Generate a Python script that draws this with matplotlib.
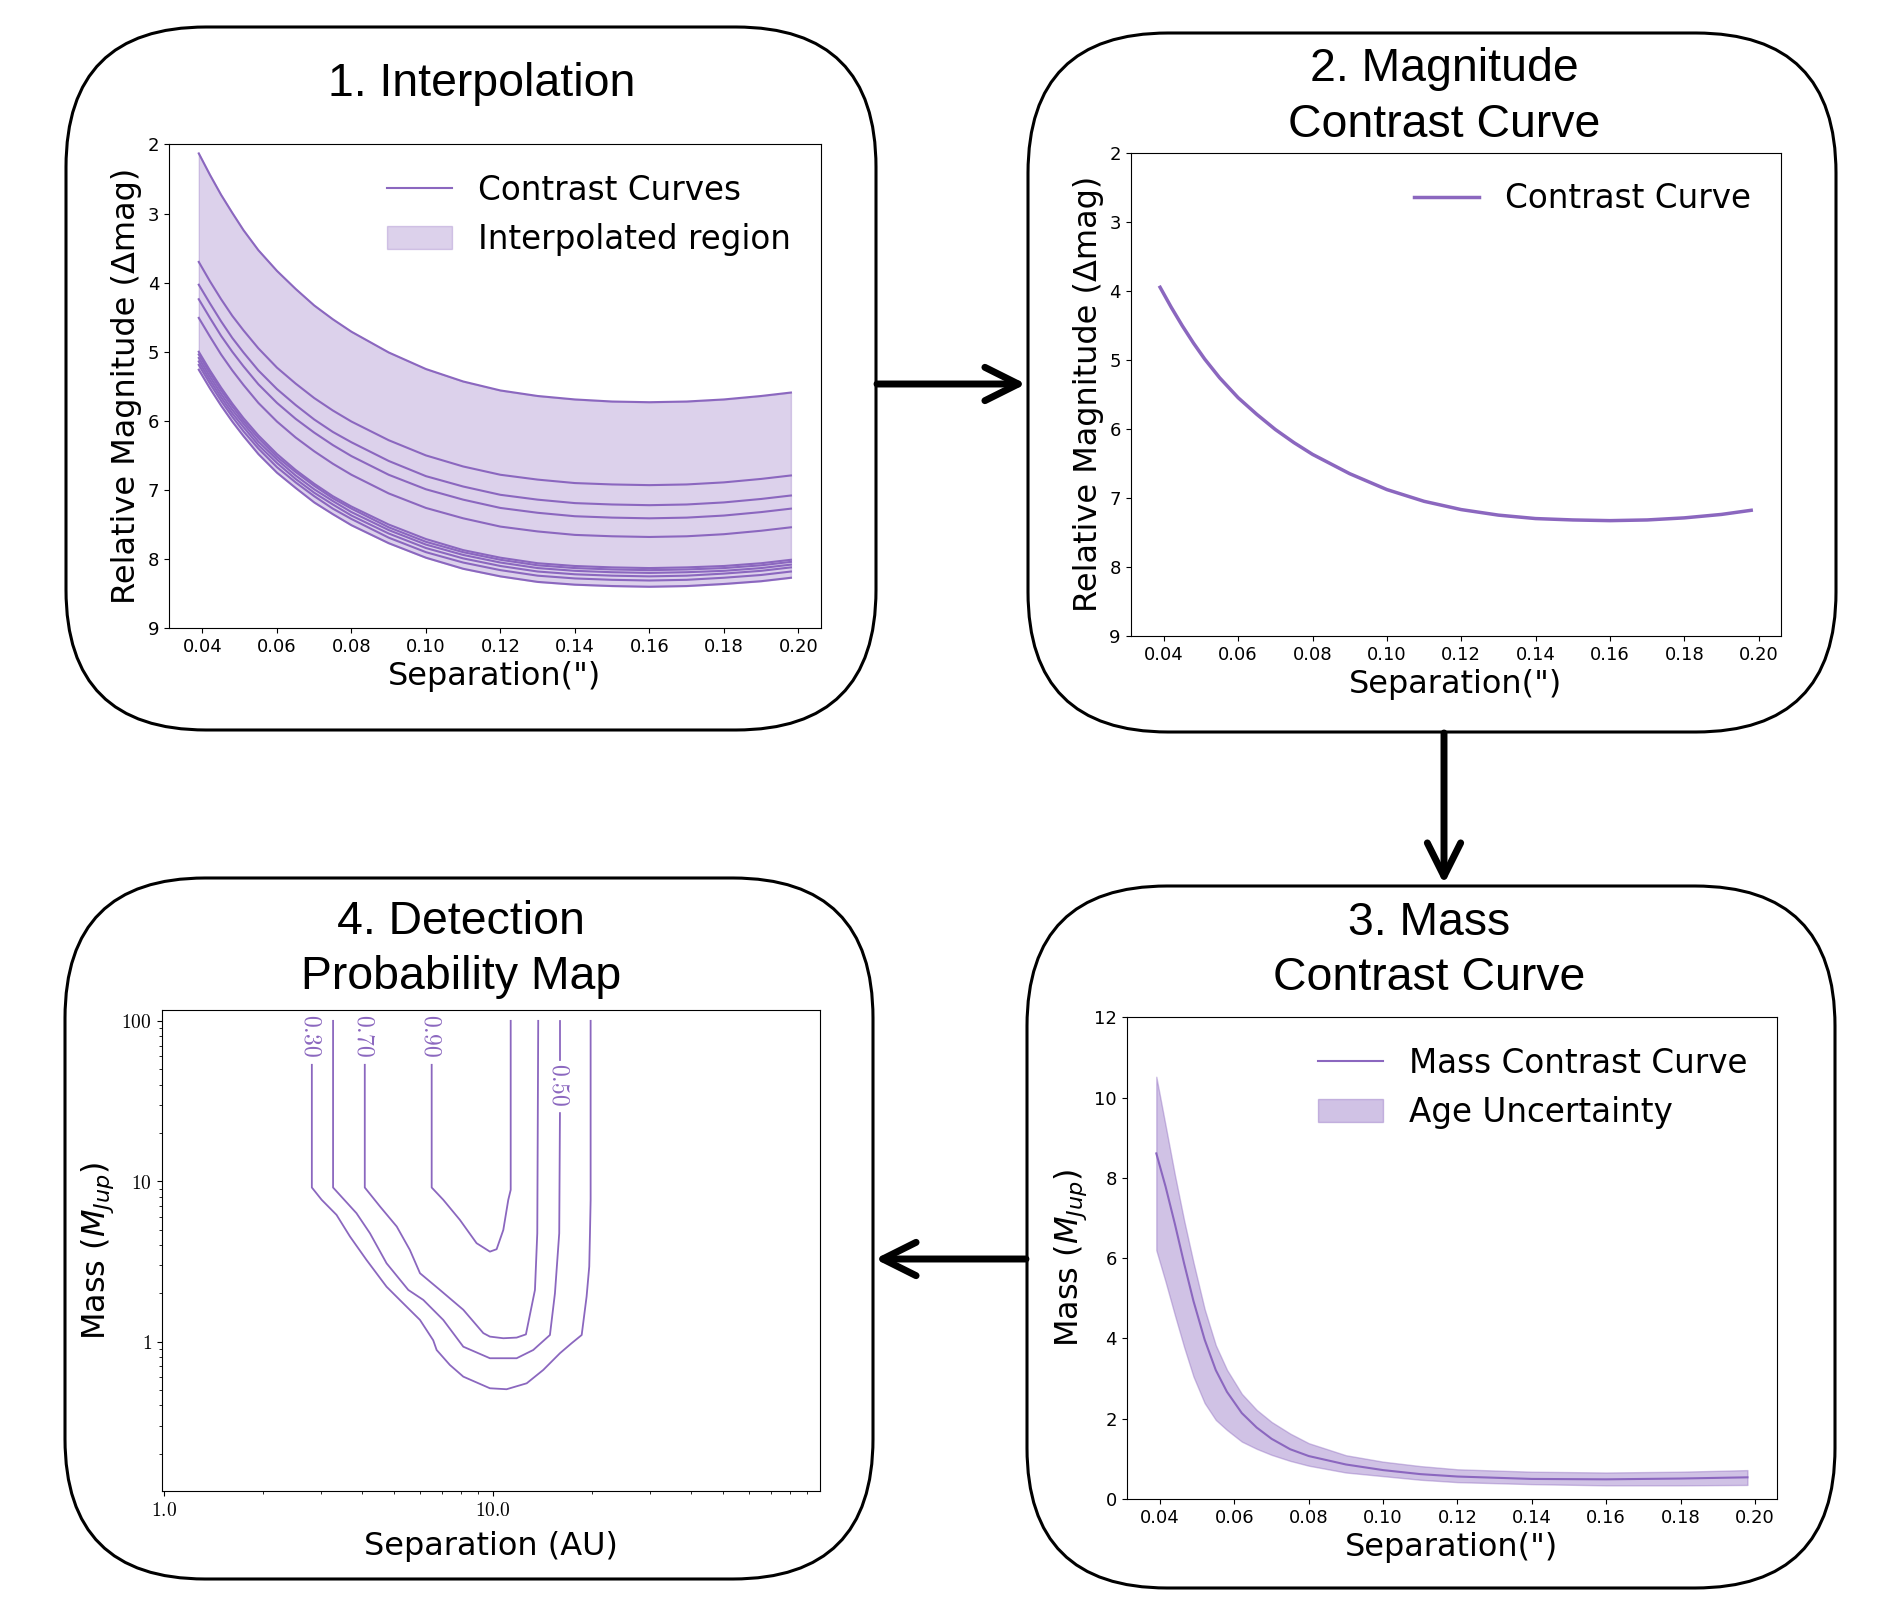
#!/usr/bin/python3

import matplotlib
matplotlib.use("Agg")
import matplotlib.pyplot as plt
from matplotlib.patches import FancyBboxPatch, FancyArrowPatch
from matplotlib.ticker import FixedLocator, NullFormatter, LogLocator

#_____________________________________________________________________________
# panel 1: contrast curves (Delta mag) vs separation (arcsec)
sep = [0.039, 0.042, 0.045, 0.048, 0.051, 0.055, 0.06, 0.065, 0.07, 0.075, 0.08, 0.09,
       0.10, 0.11, 0.12, 0.13, 0.14, 0.15, 0.16, 0.17, 0.18, 0.19, 0.198]

dmag_1  = [2.13, 2.44, 2.73, 2.99, 3.24, 3.53, 3.83, 4.09, 4.33, 4.53, 4.71, 5.01,
           5.25, 5.43, 5.56, 5.64, 5.69, 5.72, 5.73, 5.72, 5.69, 5.64, 5.59]
dmag_2  = [3.70, 3.98, 4.24, 4.48, 4.69, 4.95, 5.23, 5.46, 5.67, 5.85, 6.01, 6.28,
           6.50, 6.66, 6.78, 6.85, 6.90, 6.92, 6.93, 6.92, 6.89, 6.84, 6.79]
dmag_3  = [4.03, 4.30, 4.56, 4.80, 5.01, 5.27, 5.54, 5.77, 5.98, 6.16, 6.31, 6.58,
           6.80, 6.95, 7.07, 7.14, 7.19, 7.21, 7.22, 7.21, 7.18, 7.13, 7.08]
dmag_4  = [4.24, 4.51, 4.77, 5.00, 5.21, 5.47, 5.74, 5.97, 6.17, 6.35, 6.51, 6.78,
           6.99, 7.14, 7.26, 7.33, 7.38, 7.40, 7.41, 7.40, 7.37, 7.32, 7.27]
dmag_5  = [4.51, 4.78, 5.04, 5.27, 5.48, 5.74, 6.01, 6.24, 6.44, 6.62, 6.78, 7.05,
           7.26, 7.41, 7.53, 7.60, 7.65, 7.67, 7.68, 7.67, 7.64, 7.59, 7.54]
dmag_6  = [5.00, 5.27, 5.52, 5.75, 5.96, 6.21, 6.48, 6.71, 6.91, 7.09, 7.24, 7.50,
           7.71, 7.87, 7.98, 8.06, 8.10, 8.12, 8.13, 8.12, 8.10, 8.06, 8.01]
dmag_7  = [5.04, 5.31, 5.56, 5.79, 6.00, 6.25, 6.52, 6.74, 6.94, 7.12, 7.27, 7.54,
           7.75, 7.90, 8.01, 8.09, 8.13, 8.15, 8.16, 8.15, 8.13, 8.09, 8.04]
dmag_8  = [5.09, 5.36, 5.61, 5.84, 6.04, 6.30, 6.56, 6.79, 6.99, 7.16, 7.32, 7.58,
           7.79, 7.94, 8.05, 8.13, 8.17, 8.19, 8.20, 8.19, 8.17, 8.13, 8.08]
dmag_9  = [5.14, 5.41, 5.66, 5.89, 6.09, 6.35, 6.61, 6.84, 7.04, 7.21, 7.37, 7.63,
           7.84, 7.99, 8.10, 8.18, 8.22, 8.24, 8.25, 8.24, 8.21, 8.17, 8.12]
dmag_10 = [5.19, 5.46, 5.71, 5.94, 6.15, 6.40, 6.67, 6.89, 7.09, 7.27, 7.42, 7.69,
           7.90, 8.05, 8.16, 8.24, 8.28, 8.30, 8.31, 8.30, 8.27, 8.23, 8.18]
dmag_11 = [5.26, 5.53, 5.78, 6.01, 6.22, 6.48, 6.75, 6.97, 7.18, 7.35, 7.51, 7.77,
           7.98, 8.14, 8.25, 8.33, 8.37, 8.39, 8.40, 8.39, 8.36, 8.32, 8.27]

# panel 2: interpolated contrast curve
dmag_sel = [3.95, 4.24, 4.51, 4.76, 4.99, 5.26, 5.55, 5.79, 6.01, 6.20, 6.37, 6.65,
            6.88, 7.05, 7.17, 7.25, 7.30, 7.32, 7.33, 7.32, 7.29, 7.24, 7.18]

# panel 3: mass contrast curve with age uncertainty
sep_m = [0.039, 0.0415, 0.044, 0.0465, 0.049, 0.052, 0.055, 0.058, 0.062, 0.066, 0.07,
         0.075, 0.08, 0.09, 0.10, 0.11, 0.12, 0.14, 0.16, 0.18, 0.198]
mass_c  = [8.61, 7.78, 6.85, 5.86, 4.93, 3.97, 3.21, 2.67, 2.14, 1.78, 1.50,
           1.24, 1.07, 0.86, 0.72, 0.62, 0.56, 0.50, 0.49, 0.51, 0.54]
mass_hi = [10.52, 9.30, 8.07, 6.93, 5.89, 4.73, 3.83, 3.22, 2.62, 2.22, 1.92,
           1.63, 1.39, 1.09, 0.93, 0.82, 0.74, 0.68, 0.66, 0.68, 0.72]
mass_lo = [6.20, 5.41, 4.58, 3.78, 3.05, 2.39, 1.97, 1.72, 1.43, 1.25, 1.10,
           0.95, 0.83, 0.66, 0.57, 0.48, 0.42, 0.37, 0.34, 0.34, 0.35]

# panel 4: detection probability contours, separation (AU) and mass (Mjup)
c30_sep  = [2.81, 2.81, 3.01, 3.34, 3.67, 4.12, 4.74, 5.20, 5.99, 6.57, 6.73, 7.38, 8.11, 9.77,
            10.98, 12.64, 14.19, 15.95, 17.3, 18.57, 19.22, 19.58, 19.68, 19.77, 19.77]
c30_mass = [53.2, 9.14, 7.66, 6.17, 4.52, 3.23, 2.20, 1.82, 1.365, 1.02, 0.887, 0.716, 0.605, 0.512,
            0.505, 0.550, 0.666, 0.847, 0.977, 1.10, 1.91, 2.94, 4.74, 7.66, 100]

c50_sep  = [3.26, 3.26, 3.84, 4.22, 4.74, 5.52, 6.13, 7.05, 8.11, 9.77, 11.78, 13.23, 14.87,
            15.40, 15.87, 15.95]
c50_mass = [100, 9.14, 6.32, 4.74, 3.08, 2.10, 1.82, 1.365, 0.93, 0.788, 0.788, 0.887, 1.10,
            2.00, 4.74, 26.6]
c50_top_sep  = [15.95, 15.95]
c50_top_mass = [57.2, 100]

c70_sep  = [4.07, 4.07, 4.53, 5.09, 5.58, 5.99, 6.89, 8.11, 9.33, 9.77, 10.73, 11.78, 12.57,
            13.39, 13.61, 13.70]
c70_mass = [53.2, 9.14, 6.95, 5.22, 3.73, 2.67, 2.10, 1.58, 1.13, 1.075, 1.05, 1.06, 1.11,
            2.10, 4.74, 100]

c90_sep  = [6.50, 6.50, 7.05, 7.92, 8.90, 9.77, 10.24, 10.73, 11.11, 11.3, 11.3]
c90_mass = [53.2, 9.14, 7.66, 5.74, 4.11, 3.64, 3.77, 4.97, 7.66, 8.84, 100]

lev_txt  = ["0.30", "0.70", "0.90", "0.50"]
lev_sep  = [2.81, 4.07, 6.50, 15.95]
lev_mass = [81, 81, 81, 40]

col = "#8b67bf"

#_____________________________________________________________________________
def main():

    fig = plt.figure(figsize=(18.88, 16.12), dpi=100)

    #background layer in pixel units for boxes, titles and arrows
    bg = fig.add_axes([0, 0, 1, 1], zorder=0)
    bg.set_xlim(0, 1888)
    bg.set_ylim(1612, 0)
    bg.axis("off")

    draw_frames(bg)

    plot_interp(fig)
    plot_mag(fig)
    plot_mass(fig)
    plot_prob(fig)

    fig.savefig("out.png", dpi=100)
    plt.close()

#main

#_____________________________________________________________________________
def draw_frames(bg):

    #rounded boxes: x0, y0, x1, y1
    boxes = [(66, 27, 876, 730), (1028, 33, 1836, 732), (1027, 886, 1835, 1588), (65, 878, 873, 1579)]
    for x0, y0, x1, y1 in boxes:
        bx = FancyBboxPatch((x0, y0), x1-x0, y1-y0, boxstyle="round,pad=0,rounding_size=140",
                            fc="white", ec="black", lw=2.2)
        bg.add_patch(bx)

    #titles
    tfont = dict(family=["Liberation Sans", "DejaVu Sans"], fontsize=33.4, ha="center", va="baseline")
    bg.text(482, 96, "1. Interpolation", **tfont)
    bg.text(1444, 81, "2. Magnitude", **tfont)
    bg.text(1444, 137, "Contrast Curve", **tfont)
    bg.text(1429, 935, "3. Mass", **tfont)
    bg.text(1429, 990, "Contrast Curve", **tfont)
    bg.text(461, 934, "4. Detection", **tfont)
    bg.text(461, 989, "Probability Map", **tfont)

    #arrows between the boxes
    arr = [((877, 384), (1026, 384)), ((1444, 733), (1444, 884)), ((1026, 1259), (875, 1259))]
    for pa, pb in arr:
        ar = FancyArrowPatch(pa, pb, arrowstyle="->", mutation_scale=60, lw=5, color="black",
                             shrinkA=0, shrinkB=0)
        bg.add_patch(ar)

#draw_frames

#_____________________________________________________________________________
def plot_interp(fig):

    ax = fig.add_axes([0.0896, 0.6103, 0.3450, 0.3001], zorder=1)

    curves = [dmag_1, dmag_2, dmag_3, dmag_4, dmag_5, dmag_6, dmag_7, dmag_8, dmag_9, dmag_10, dmag_11]

    band = ax.fill_between(sep, dmag_1, dmag_11, color=col, alpha=0.3, label="Interpolated region")
    lines = []
    for cv in curves:
        lines += ax.plot(sep, cv, color=col, lw=1.5, label="Contrast Curves")

    ax.set_ylim(9, 2)
    ax.set_xticks([0.04, 0.06, 0.08, 0.10, 0.12, 0.14, 0.16, 0.18, 0.20])
    ax.tick_params(labelsize=13)
    ax.set_xlabel("Separation(\")", fontsize=23)
    ax.set_ylabel("Relative Magnitude (\u0394mag)", fontsize=23)
    ax.legend(handles=[lines[0], band], loc="upper right", fontsize=23.5, frameon=False)

#plot_interp

#_____________________________________________________________________________
def plot_mag(fig):

    ax = fig.add_axes([0.5988, 0.6055, 0.3444, 0.2998], zorder=1)

    ax.plot(sep, dmag_sel, color=col, lw=2.5, label="Contrast Curve")

    ax.set_ylim(9, 2)
    ax.set_xticks([0.04, 0.06, 0.08, 0.10, 0.12, 0.14, 0.16, 0.18, 0.20])
    ax.tick_params(labelsize=13)
    ax.set_xlabel("Separation(\")", fontsize=23)
    ax.set_ylabel("Relative Magnitude (\u0394mag)", fontsize=23)
    ax.legend(loc="upper right", fontsize=23.5, frameon=False)

#plot_mag

#_____________________________________________________________________________
def plot_mass(fig):

    ax = fig.add_axes([0.5968, 0.0701, 0.3444, 0.2988], zorder=1)

    ln, = ax.plot(sep_m, mass_c, color=col, lw=1.5, label="Mass Contrast Curve")
    band = ax.fill_between(sep_m, mass_lo, mass_hi, color=col, alpha=0.4, label="Age Uncertainty")

    ax.set_ylim(0, 12)
    ax.set_xticks([0.04, 0.06, 0.08, 0.10, 0.12, 0.14, 0.16, 0.18, 0.20])
    ax.tick_params(labelsize=13)
    ax.set_xlabel("Separation(\")", fontsize=23)
    ax.set_ylabel("Mass ($M_{Jup}$)", fontsize=23)
    ax.legend(handles=[ln, band], loc="upper right", fontsize=23.5, frameon=False)

#plot_mass

#_____________________________________________________________________________
def plot_prob(fig):

    ax = fig.add_axes([0.0856, 0.0750, 0.3487, 0.2985], zorder=1)

    ax.plot(c30_sep, c30_mass, color=col, lw=1.3)
    ax.plot(c50_sep, c50_mass, color=col, lw=1.3)
    ax.plot(c50_top_sep, c50_top_mass, color=col, lw=1.3)
    ax.plot(c70_sep, c70_mass, color=col, lw=1.3)
    ax.plot(c90_sep, c90_mass, color=col, lw=1.3)

    for t, x, y in zip(lev_txt, lev_sep, lev_mass):
        ax.text(x, y, "$"+t+"$", rotation=-90, ha="center", va="center", fontsize=17,
                color=col, math_fontfamily="cm")

    ax.set_xscale("log")
    ax.set_yscale("log")
    ax.set_xlim(0.982, 98.4)
    ax.set_ylim(0.117, 117)

    ax.xaxis.set_major_locator(FixedLocator([1, 10]))
    ax.set_xticklabels(["$1.0$", "$10.0$"], fontsize=14, math_fontfamily="cm")
    ax.xaxis.set_minor_locator(LogLocator(base=10, subs=[2, 3, 4, 5, 6, 7, 8, 9], numticks=20))
    ax.xaxis.set_minor_formatter(NullFormatter())

    ax.yaxis.set_major_locator(FixedLocator([1, 10, 100]))
    ax.set_yticklabels(["$1$", "$10$", "$100$"], fontsize=14, math_fontfamily="cm")
    ax.yaxis.set_minor_locator(LogLocator(base=10, subs=[2, 3, 4, 5, 6, 7, 8, 9], numticks=20))
    ax.yaxis.set_minor_formatter(NullFormatter())

    ax.set_xlabel("Separation (AU)", fontsize=23, labelpad=8)
    ax.set_ylabel("Mass ($M_{Jup}$)", fontsize=23)

#plot_prob

#_____________________________________________________________________________
if __name__ == "__main__":

    main()
